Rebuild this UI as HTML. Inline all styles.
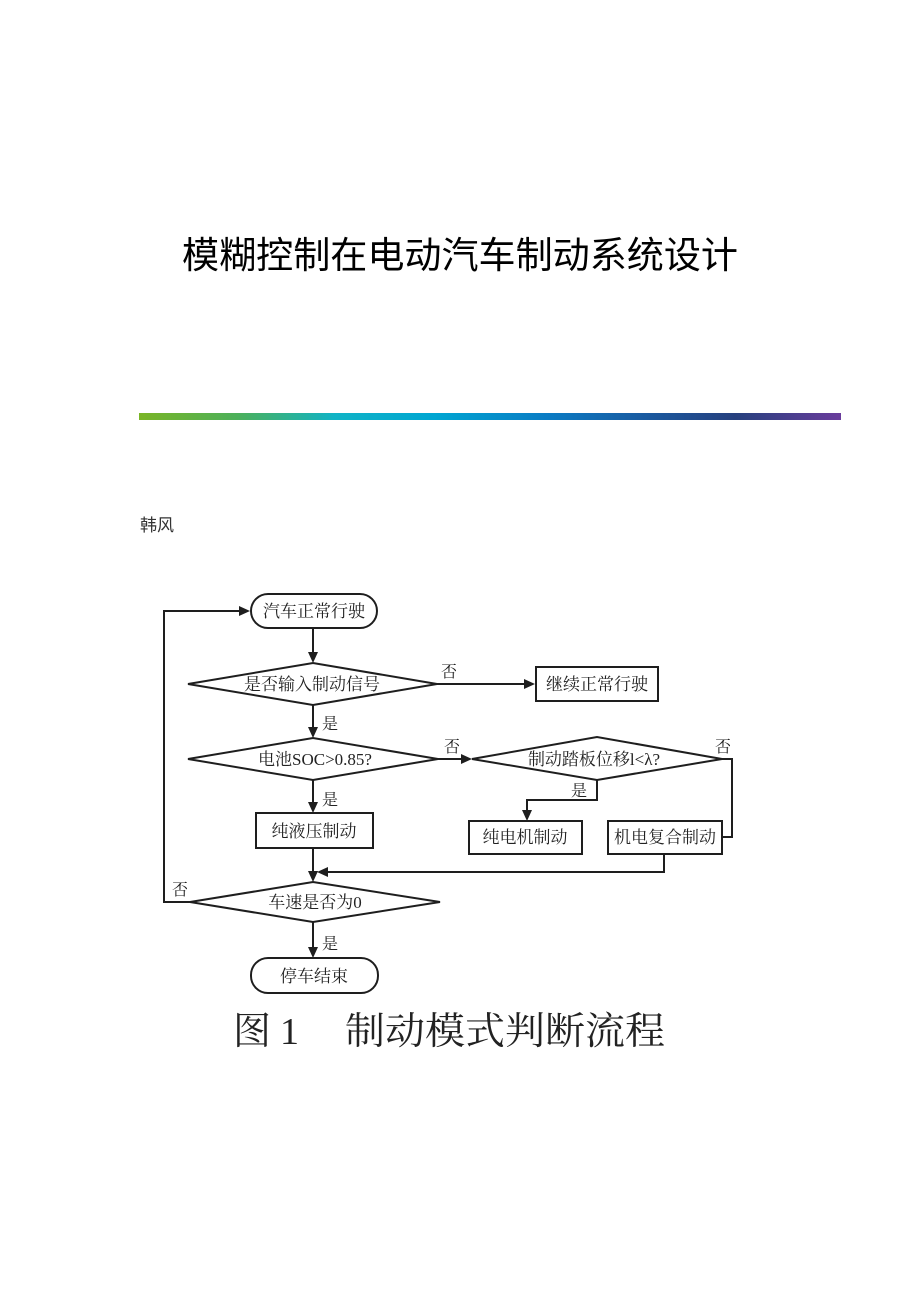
<!DOCTYPE html>
<html>
<head>
<meta charset="utf-8">
<style>
  html,body{margin:0;padding:0;background:#fff;}
  body{width:920px;height:1302px;overflow:hidden;position:relative;}
  svg{position:absolute;left:0;top:0;}
</style>
</head>
<body>
<svg width="920" height="1302" viewBox="0 0 920 1302" xmlns="http://www.w3.org/2000/svg">
  <defs>
    <linearGradient id="bar" x1="0" y1="0" x2="1" y2="0">
      <stop offset="0" stop-color="#7ab526"/>
      <stop offset="0.14" stop-color="#4cb05a"/>
      <stop offset="0.28" stop-color="#10b3c6"/>
      <stop offset="0.42" stop-color="#00a6d2"/>
      <stop offset="0.58" stop-color="#0a7cc4"/>
      <stop offset="0.72" stop-color="#1a5aa0"/>
      <stop offset="0.85" stop-color="#26407e"/>
      <stop offset="1" stop-color="#6a3c9c"/>
    </linearGradient>
  </defs>

  <!-- Title -->
  <text x="182" y="268" font-family="'Liberation Sans','Noto Sans CJK SC',sans-serif" font-size="37" font-weight="normal" fill="#000" textLength="556" lengthAdjust="spacingAndGlyphs">模糊控制在电动汽车制动系统设计</text>

  <!-- gradient bar -->
  <rect x="139" y="413" width="702" height="7" fill="url(#bar)"/>

  <!-- author -->
  <text x="140" y="531" font-family="'Liberation Sans','Noto Sans CJK SC',sans-serif" font-size="17" fill="#333">韩风</text>

  <g fill="none" stroke="#1e1e1e" stroke-width="2">
    <rect x="251" y="594" width="126" height="34" rx="17" ry="17"/>
    <polygon points="188,684 313,663 437,684 313,705"/>
    <rect x="536" y="667" width="122" height="34"/>
    <polygon points="188,759 313,738 438,759 313,780"/>
    <polygon points="472,759 597,737 722,759 597,780"/>
    <rect x="469" y="821" width="113" height="33"/>
    <rect x="608" y="821" width="114" height="33"/>
    <rect x="256" y="813" width="117" height="35"/>
    <polygon points="190,902 313,882 440,902 313,922"/>
    <rect x="251" y="958" width="127" height="35" rx="17" ry="17"/>

    <line x1="313" y1="628" x2="313" y2="654"/>
    <line x1="437" y1="684" x2="526" y2="684"/>
    <line x1="313" y1="705" x2="313" y2="729"/>
    <line x1="438" y1="759" x2="463" y2="759"/>
    <polyline points="722,759 732,759 732,837 722,837"/>
    <polyline points="597,780 597,800 527,800 527,812"/>
    <polyline points="664,854 664,872 326,872"/>
    <line x1="313" y1="780" x2="313" y2="804"/>
    <line x1="313" y1="848" x2="313" y2="873"/>
    <polyline points="190,902 164,902 164,611 241,611"/>
    <line x1="313" y1="922" x2="313" y2="949"/>
  </g>

  <g fill="#1e1e1e">
    <polygon points="308,652 318,652 313,663"/>
    <polygon points="524,679 524,689 535,684"/>
    <polygon points="308,727 318,727 313,738"/>
    <polygon points="461,754 461,764 472,759"/>
    <polygon points="522,810 532,810 527,821"/>
    <polygon points="308,802 318,802 313,813"/>
    <polygon points="308,871 318,871 313,882"/>
    <polygon points="328,867 328,877 317,872"/>
    <polygon points="239,606 239,616 250,611"/>
    <polygon points="308,947 318,947 313,958"/>
  </g>

  <g font-family="'Liberation Serif','Noto Serif CJK SC',serif" font-size="17" fill="#222" text-anchor="middle">
    <text x="314" y="617">汽车正常行驶</text>
    <text x="312" y="690">是否输入制动信号</text>
    <text x="597" y="690">继续正常行驶</text>
    <text x="315" y="765">电池SOC&gt;0.85?</text>
    <text x="594" y="765">制动踏板位移l&lt;λ?</text>
    <text x="525" y="843">纯电机制动</text>
    <text x="665" y="843">机电复合制动</text>
    <text x="314" y="837">纯液压制动</text>
    <text x="315" y="908">车速是否为0</text>
    <text x="314" y="982">停车结束</text>
  </g>

  <g font-family="'Liberation Serif','Noto Serif CJK SC',serif" font-size="16" fill="#222">
    <text x="441" y="677">否</text>
    <text x="322" y="729">是</text>
    <text x="444" y="752">否</text>
    <text x="715" y="752">否</text>
    <text x="571" y="796">是</text>
    <text x="322" y="805">是</text>
    <text x="172" y="895">否</text>
    <text x="322" y="949">是</text>
  </g>

  <g font-family="'Liberation Serif','Noto Serif CJK SC',serif" font-size="38" fill="#222">
    <text x="233" y="1044">图</text>
    <text x="280" y="1044">1</text>
    <text x="345" y="1044" textLength="320" lengthAdjust="spacingAndGlyphs">制动模式判断流程</text>
  </g>
</svg>
</body>
</html>
